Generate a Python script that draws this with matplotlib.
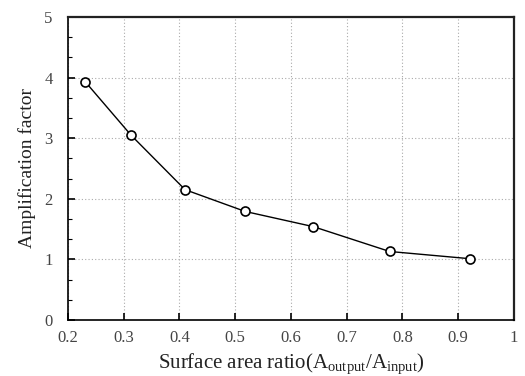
import matplotlib
matplotlib.use("Agg")
import matplotlib.pyplot as plt
from matplotlib.ticker import MultipleLocator, FixedLocator, FixedFormatter

plt.rcParams['font.family'] = ['Liberation Serif', 'DejaVu Serif']
plt.rcParams['mathtext.fontset'] = 'custom'
plt.rcParams['mathtext.rm'] = 'Liberation Serif'

# Data
area_ratio = [0.231, 0.313, 0.410, 0.518, 0.640, 0.777, 0.922]
amplification = [3.93, 3.05, 2.15, 1.79, 1.54, 1.13, 1.01]

x_ticks = [0.2, 0.3, 0.4, 0.5, 0.6, 0.7, 0.8, 0.9, 1.0]
x_tick_labels = ["0.2", "0.3", "0.4", "0.5", "0.6", "0.7", "0.8", "0.9", "1"]
y_ticks = [0, 1, 2, 3, 4, 5]

fig = plt.figure(figsize=(5.25, 3.76), dpi=100)
ax = fig.add_axes([0.1295, 0.149, 0.8495, 0.806])

ax.plot(area_ratio, amplification, '-', color='black', linewidth=1.0,
        marker='o', markersize=6.5, markerfacecolor='white',
        markeredgecolor='black', markeredgewidth=1.2, zorder=3)

ax.set_xlim(0.2, 1.0)
ax.set_ylim(0, 5)

ax.xaxis.set_major_locator(FixedLocator(x_ticks))
ax.xaxis.set_major_formatter(FixedFormatter(x_tick_labels))
ax.yaxis.set_major_locator(FixedLocator(y_ticks))
ax.yaxis.set_minor_locator(MultipleLocator(1 / 3))

ax.grid(True, which='major', linestyle=(0, (1, 2)), color='#aaaaaa', linewidth=0.8)

ax.tick_params(axis='both', which='major', direction='in', length=5, width=1.2,
               labelsize=12, labelcolor='#444444', top=False, right=False)
ax.tick_params(axis='y', which='minor', direction='in', length=3, width=0.8, right=False)
ax.tick_params(axis='x', which='major', pad=7)
ax.tick_params(axis='y', which='major', pad=11)

for side in ['left', 'bottom']:
    ax.spines[side].set_linewidth(1.2)
for side in ['top', 'right']:
    ax.spines[side].set_linewidth(1.6)
    ax.spines[side].set_color('#222222')

ax.set_ylabel("Amplification factor", fontsize=14, color='#222222', labelpad=6)
ax.set_xlabel(r"Surface area ratio$(\mathregular{A_{output}/A_{input}})$",
              fontsize=15, color='#222222', labelpad=4)

fig.savefig("out.png", dpi=100)
